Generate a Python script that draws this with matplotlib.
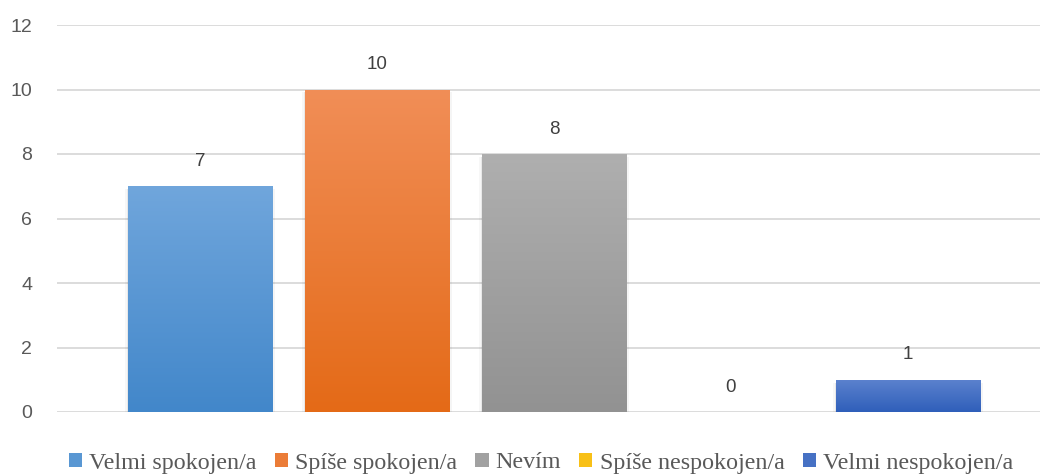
import numpy as np
import matplotlib
matplotlib.use("Agg")
import matplotlib.pyplot as plt
import matplotlib.patheffects as pe
from matplotlib.colors import LinearSegmentedColormap, to_rgb
from matplotlib.patches import Rectangle

# Survey answers and their counts
categories = ["Velmi spokojen/a", "Spíše spokojen/a", "Nevím",
              "Spíše nespokojen/a", "Velmi nespokojen/a"]
counts = [7, 10, 8, 0, 1]
y_ticks = [0, 2, 4, 6, 8, 10, 12]

# (top colour, bottom colour) of each bar's vertical gradient
gradients = [
    ("#70A6DC", "#4287CA"),
    ("#F18E57", "#E46A17"),
    ("#AFAFAF", "#929292"),
    ("#FFCB2E", "#F0B400"),
    ("#5C82CE", "#2F5FBA"),
]

fig = plt.figure(figsize=(10.4, 4.74), dpi=100)
ax = fig.add_axes([57 / 1040, 62 / 474, 1 - 57 / 1040, (412 - 25) / 474])

x = np.arange(len(categories))
width = 0.814

# soft drop shadow built from a few faint offset copies
shadow = []
for dx, dy, a in [(0, -1, 0.20), (1, -2, 0.08), (-1, -2, 0.06),
                  (2, -2, 0.04), (-2, -2, 0.03)]:
    shadow.append(pe.SimplePatchShadow(offset=(dx, dy), shadow_rgbFace="#000000", alpha=a))
shadow.append(pe.Normal())

bars = ax.bar(x, counts, width=width, color=[g[1] for g in gradients],
              zorder=2, linewidth=0)
for bar, (top, bottom), v in zip(bars, gradients, counts):
    if v <= 0:
        bar.set_visible(False)
        continue
    bar.set_path_effects(shadow)
    cmap = LinearSegmentedColormap.from_list("g", [bottom, top])
    x0 = bar.get_x()
    img = ax.imshow(np.linspace(0, 1, 256).reshape(-1, 1), cmap=cmap,
                    origin="lower", aspect="auto",
                    extent=[x0, x0 + bar.get_width(), 0, v], zorder=3)
    img.set_clip_path(bar)

# value labels above the bars
for xi, v in zip(x, counts):
    ax.annotate(str(v), (xi, v), xytext=(0, 18), textcoords="offset points",
                ha="center", va="center", fontsize=13.5,
                family="Liberation Sans", color="#404040", zorder=4)

ax.set_xlim(-0.808, 4.746)
ax.set_ylim(0, 12)
ax.set_yticks(y_ticks)
ax.set_yticklabels([str(t) for t in y_ticks], family="Liberation Sans",
                   fontsize=14, color="#595959")
ax.set_xticks([])
ax.tick_params(axis="y", length=0, pad=18)
ax.yaxis.grid(True, color="#D9D9D9", linewidth=1.3, zorder=0)
ax.set_axisbelow(True)
for s in ax.spines.values():
    s.set_visible(False)

handles = [Rectangle((0, 0), 1, 1,
                     facecolor=(np.array(to_rgb(t)) + np.array(to_rgb(b))) / 2,
                     edgecolor="none") for t, b in gradients]
leg = fig.legend(handles, categories, loc="center",
                 bbox_to_anchor=(541 / 1040, 1 - 463 / 474),
                 ncol=5, frameon=False, handlelength=0.55, handleheight=0.55,
                 handletextpad=0.3, columnspacing=0.75,
                 prop={"family": "Liberation Serif", "size": 17.3})
for t in leg.get_texts():
    t.set_color("#595959")

fig.savefig("out.png", dpi=100)
